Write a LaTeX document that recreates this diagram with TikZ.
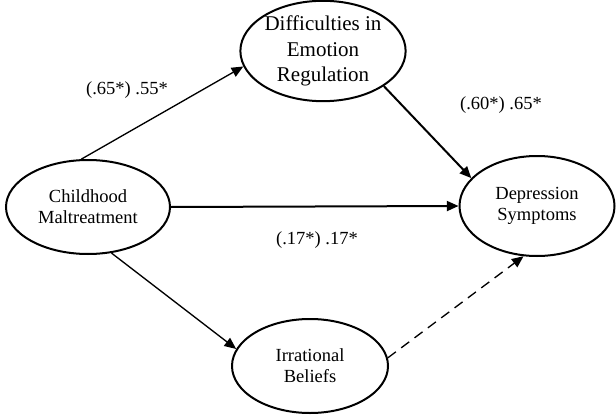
\documentclass[tikz,border=0pt]{standalone}
\usepackage{fontspec}
\setmainfont{Liberation Serif}
\usetikzlibrary{shapes.geometric,arrows.meta}
\tikzset{
  construct/.style={ellipse,draw,line width=1.2pt,inner sep=0pt,align=center,
    font=\fontsize{11.1}{12.5}\selectfont},
  path/.style={-{Triangle[length=7pt,width=6pt]},line width=0.8pt},
  thickpath/.style={path,line width=1.2pt},
  coef/.style={font=\fontsize{11.1}{12.5}\selectfont}
}
\begin{document}
\begin{tikzpicture}[x=0.6pt,y=-0.6pt]
\useasboundingbox (0,0) rectangle (616,415);
\node[construct,minimum width=98.4pt,minimum height=56.4pt] (cm) at (88,207) {Childhood\\Maltreatment};
\node[construct,minimum width=96pt,minimum height=58.8pt,font=\fontsize{12.6}{15.5}\selectfont] (der) at (323,51) {Difficulties in\\Emotion\\Regulation};
\node[construct,minimum width=93pt,minimum height=60pt] (ds) at (537,206) {Depression\\Symptoms};
\node[construct,minimum width=93.6pt,minimum height=56.4pt] (ib) at (310,366) {Irrational\\Beliefs};
% paths
\draw[path] (cm.98) -- (der.191);
\draw[thickpath] (der.330) -- (ds.157);
\draw[thickpath] (cm.east) -- (ds.west);
\draw[path] (cm.297) -- (ib.167);
\draw[path,dashed,dash pattern=on 6pt off 4pt] (ib.6) -- (ds.255);
% coefficients
\node[coef] (c1) at (127,90) {(.65*) .55*};
\node[coef] (c2) at (501,105) {(.60*) .65*};
\node[coef] (c3) at (317,240) {(.17*) .17*};
\end{tikzpicture}
\end{document}
